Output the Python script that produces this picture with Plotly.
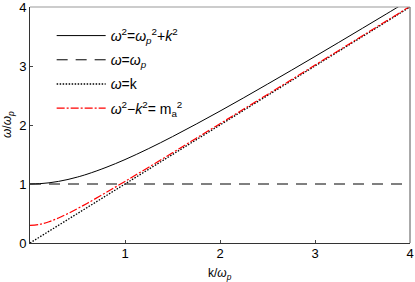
import plotly.graph_objects as go

# k/ωp sample points
k_vals = [0, 0.1, 0.2, 0.3, 0.4, 0.5, 0.6, 0.8, 1.0, 1.25, 1.5, 1.75, 2.0, 2.25, 2.5, 2.75,
          3.0, 3.25, 3.5, 3.75, 4.0]
# ω²=ωp²+k²
w_plasmon = [1.0, 1.005, 1.02, 1.044, 1.077, 1.118, 1.166, 1.281, 1.414, 1.601, 1.803, 2.016,
             2.236, 2.462, 2.693, 2.926, 3.162, 3.400, 3.640, 3.881, 4.123]
# ω²−k²=m_a²
w_axion = [0.30, 0.316, 0.361, 0.424, 0.50, 0.583, 0.671, 0.854, 1.044, 1.285, 1.530, 1.776,
           2.022, 2.270, 2.518, 2.766, 3.015, 3.264, 3.513, 3.762, 4.011]
# ω=ωp
wp_x = [0, 4]
wp_y = [1, 1]
# ω=k
light_x = [0, 4]
light_y = [0, 4]

x_ticks = [1, 2, 3, 4]
y_ticks = [0, 1, 2, 3, 4]

font_family = "Liberation Sans, Arial, sans-serif"

fig = go.Figure()
fig.add_trace(go.Scatter(x=k_vals, y=w_plasmon, mode="lines", line=dict(color="black", width=1, shape="spline"),
                         name="<i>ω</i><sup>2</sup>=<i>ω</i><sub><i>p</i></sub><sup>2</sup>+<i>k</i><sup>2</sup>",
                         legendgroup="a"))
fig.add_trace(go.Scatter(x=wp_x, y=wp_y, mode="lines", line=dict(color="black", width=1, dash="11px,8px"),
                         name="<i>ω</i>=<i>ω</i><sub><i>p</i></sub>", legendgroup="b"))
fig.add_trace(go.Scatter(x=light_x, y=light_y, mode="lines", line=dict(color="black", width=1.3, dash="1.5px,1.5px"),
                         name="<i>ω</i>=k", legendgroup="c"))
fig.add_trace(go.Scatter(x=k_vals, y=w_axion, mode="lines", line=dict(color="red", width=1.2, dash="8px,2px,2px,2px", shape="spline"),
                         name="<i>ω</i><sup>2</sup>−<i>k</i><sup>2</sup>= m<sub>a</sub><sup>2</sup>", legendgroup="d"))

fig.update_layout(
    width=415, height=282,
    margin=dict(l=30, r=5, t=7, b=39, autoexpand=False),
    plot_bgcolor="white", paper_bgcolor="white",
    font=dict(family=font_family, size=12, color="black"),
    showlegend=True,
    legend=dict(x=0.057, y=0.945, xanchor="left", yanchor="top", bgcolor="rgba(0,0,0,0)",
                font=dict(size=14), itemwidth=49, traceorder="grouped", tracegroupgap=3),
    xaxis=dict(range=[0, 4], tickvals=x_ticks, ticks="inside", ticklen=3, tickcolor="#444",
               showgrid=False, zeroline=False, showline=True, linecolor="#333", linewidth=1,
               automargin=False, ticklabeloverflow="allow", ticklabelstandoff=-2,
               tickfont=dict(size=13)),
    yaxis=dict(range=[0, 4], tickvals=y_ticks, ticks="inside", ticklen=3, tickcolor="#444",
               showgrid=False, zeroline=False, showline=True, linecolor="#333", linewidth=1,
               automargin=False, ticklabeloverflow="allow",
               tickfont=dict(size=13)),
    annotations=[
        dict(text="k/<i>ω</i><sub><i>p</i></sub>", xref="paper", yref="paper", x=0.5, y=0,
             xanchor="center", yanchor="top", yshift=-21, showarrow=False, font=dict(size=12)),
        dict(text="<i>ω</i>/<i>ω</i><sub><i>p</i></sub>", xref="paper", yref="paper", x=0, y=0.5,
             xanchor="right", yanchor="middle", xshift=-12, textangle=-90, showarrow=False, font=dict(size=12)),
    ],
    shapes=[
        dict(type="line", xref="paper", yref="paper", x0=0, x1=1, y0=1, y1=1, line=dict(color="#999", width=1)),
        dict(type="line", xref="paper", yref="paper", x0=1, x1=1, y0=0, y1=1, line=dict(color="#555", width=1)),
    ],
)

fig.write_html("out.html", config={"displayModeBar": False},
               post_script="document.body.style.margin='0px';")
